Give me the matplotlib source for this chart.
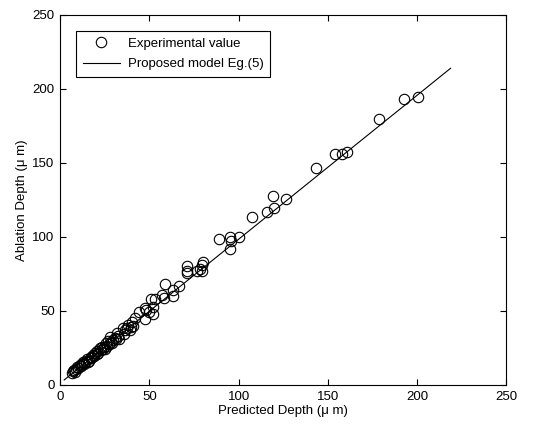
import matplotlib
matplotlib.use('Agg')
import matplotlib.pyplot as plt

plt.rcParams['font.family'] = ['Liberation Sans', 'DejaVu Sans']

pred = [6.4, 7.0, 7.7, 8.5, 9.0, 9.5, 10.2, 11.0, 11.5, 12.0, 12.9, 13.2, 13.6,
        14.4, 15.1, 15.5, 16.0, 17.0, 17.4, 17.8, 18.5, 19.0, 19.4, 20.4, 20.8,
        21.2, 22.2, 22.6, 23.2, 24.0, 24.5, 25.0, 25.6, 26.3, 26.9, 27.5, 27.8,
        28.5, 29.2, 29.7, 30.6, 31.2, 31.6, 32.5, 33.0, 35.3, 35.7, 36.5, 37.2,
        38.1, 39.1, 39.6, 40.0, 41.0, 41.7, 43.9, 47.5, 47.5, 48.3, 49.9, 50.6,
        52.1, 52.1, 53.3, 56.8, 58.1, 59.0, 63.3, 63.3, 66.5, 71.2, 71.2, 71.2,
        76.8, 78.3, 79.2, 79.4, 79.8, 89.1, 94.9, 95.1, 95.7, 100.1, 107.6,
        115.7, 119.0, 120.0, 126.5, 143.1, 154.0, 157.7, 160.5, 178.8, 192.6,
        200.7]
meas = [8.3, 9.6, 10.1, 9.0, 11.0, 12.4, 11.5, 13.5, 12.8, 14.2, 15.8, 14.0, 14.8,
        16.4, 17.3, 15.6, 16.5, 19.1, 18.0, 18.6, 20.3, 19.5, 21.4, 23.0, 21.0,
        21.8, 24.8, 23.4, 25.9, 24.0, 25.9, 24.6, 28.2, 26.5, 30.0, 27.4, 32.2,
        29.0, 28.6, 30.4, 31.5, 30.9, 34.9, 32.8, 31.0, 38.3, 34.2, 37.0, 38.6,
        40.5, 37.2, 39.5, 42.8, 40.0, 45.0, 49.5, 51.8, 44.6, 50.5, 49.5, 57.9,
        52.5, 48.0, 57.9, 60.8, 58.6, 68.0, 64.2, 60.4, 66.9, 80.6, 77.3, 75.5,
        77.3, 78.2, 76.8, 81.1, 82.9, 98.6, 91.9, 100.2, 97.5, 100.2, 113.3,
        116.9, 127.9, 119.8, 125.9, 146.8, 156.1, 156.1, 157.2, 179.7, 193.0,
        194.8]

# proposed model Eq.(5) line ends
model_x = [2.2, 218.8]
model_y = [3.4, 214.0]

fig = plt.figure(figsize=(5.5, 4.28), dpi=100)
ax = fig.add_axes([0.1095, 0.1005, 0.811, 0.8645])

ax.plot(pred, meas, 'o', mfc='none', mec='black', ms=7.5, mew=0.8,
        label='Experimental value')
ax.plot(model_x, model_y, '-', color='black', lw=0.8,
        label='Proposed model Eg.(5)')

ax.set_xlim(0, 250)
ax.set_ylim(0, 250)
ax.set_xticks([0, 50, 100, 150, 200, 250])
ax.set_yticks([0, 50, 100, 150, 200, 250])
ax.tick_params(direction='in', length=4, width=0.8, top=True, right=True,
               labelsize=9.5, pad=4)
for s in ax.spines.values():
    s.set_linewidth(0.8)

ax.set_xlabel('Predicted Depth (\u03bc m)', fontsize=9.5, labelpad=2)
ax.set_ylabel('Ablation Depth (\u03bc m)', fontsize=9.5, labelpad=3)

leg = ax.legend(loc='upper left', bbox_to_anchor=(0.036, 0.956), fontsize=9.5,
                fancybox=False, edgecolor='black', framealpha=1,
                handlelength=2.8, handletextpad=0.6, borderpad=0.5,
                labelspacing=0.6, borderaxespad=0)
leg.get_frame().set_linewidth(0.8)

fig.savefig('out.png', dpi=100)
